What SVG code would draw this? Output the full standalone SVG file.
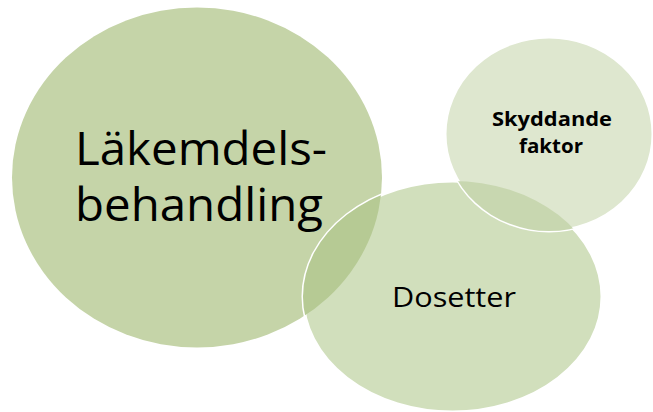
<svg xmlns="http://www.w3.org/2000/svg" width="653" height="412" viewBox="0 0 653 412">
  <defs>
    <style>
      .lbl { font-family: "Open Sans", "Liberation Sans", sans-serif; fill: #000; text-anchor: middle; }
      .edge { stroke: #ffffff; stroke-width: 3; }
    </style>
    <clipPath id="clip-lakemedel">
      <ellipse cx="197" cy="177.5" rx="185" ry="170"/>
    </clipPath>
    <clipPath id="clip-dosetter">
      <ellipse cx="452.5" cy="296.5" rx="149.5" ry="115.5"/>
    </clipPath>
  </defs>
  <rect width="653" height="412" fill="#ffffff"/>

  <g id="node-lakemedel">
    <ellipse cx="197" cy="177.5" rx="185" ry="170" fill="#c5d4a8"/>
  </g>

  <g id="node-dosetter">
    <ellipse class="edge" cx="452.5" cy="296.5" rx="149.5" ry="115.5" fill="#d1dfbc"/>
    <!-- shared area with the large circle -->
    <ellipse cx="452.5" cy="296.5" rx="149.5" ry="115.5" fill="#b6ca94" clip-path="url(#clip-lakemedel)"/>
    <text class="lbl" x="454" y="307" font-size="28" textLength="124" lengthAdjust="spacingAndGlyphs">Dosetter</text>
  </g>

  <g id="node-skyddande">
    <ellipse class="edge" cx="549" cy="134" rx="104" ry="97" fill="#dee7cf"/>
    <!-- shared area with Dosetter -->
    <ellipse cx="549" cy="134" rx="104" ry="97" fill="#c8d7b0" clip-path="url(#clip-dosetter)"/>
    <text class="lbl" x="552" y="126" font-size="20" font-weight="bold" textLength="120" lengthAdjust="spacingAndGlyphs">Skyddande</text>
    <text class="lbl" x="551" y="153" font-size="20" font-weight="bold" textLength="64" lengthAdjust="spacingAndGlyphs">faktor</text>
  </g>

  <g id="label-lakemedel">
    <text class="lbl" x="201" y="165" font-size="46" textLength="252" lengthAdjust="spacingAndGlyphs">Läkemdels-</text>
    <text class="lbl" x="199" y="221" font-size="46" textLength="248" lengthAdjust="spacingAndGlyphs">behandling</text>
  </g>

  <g id="connectors"/>
</svg>
